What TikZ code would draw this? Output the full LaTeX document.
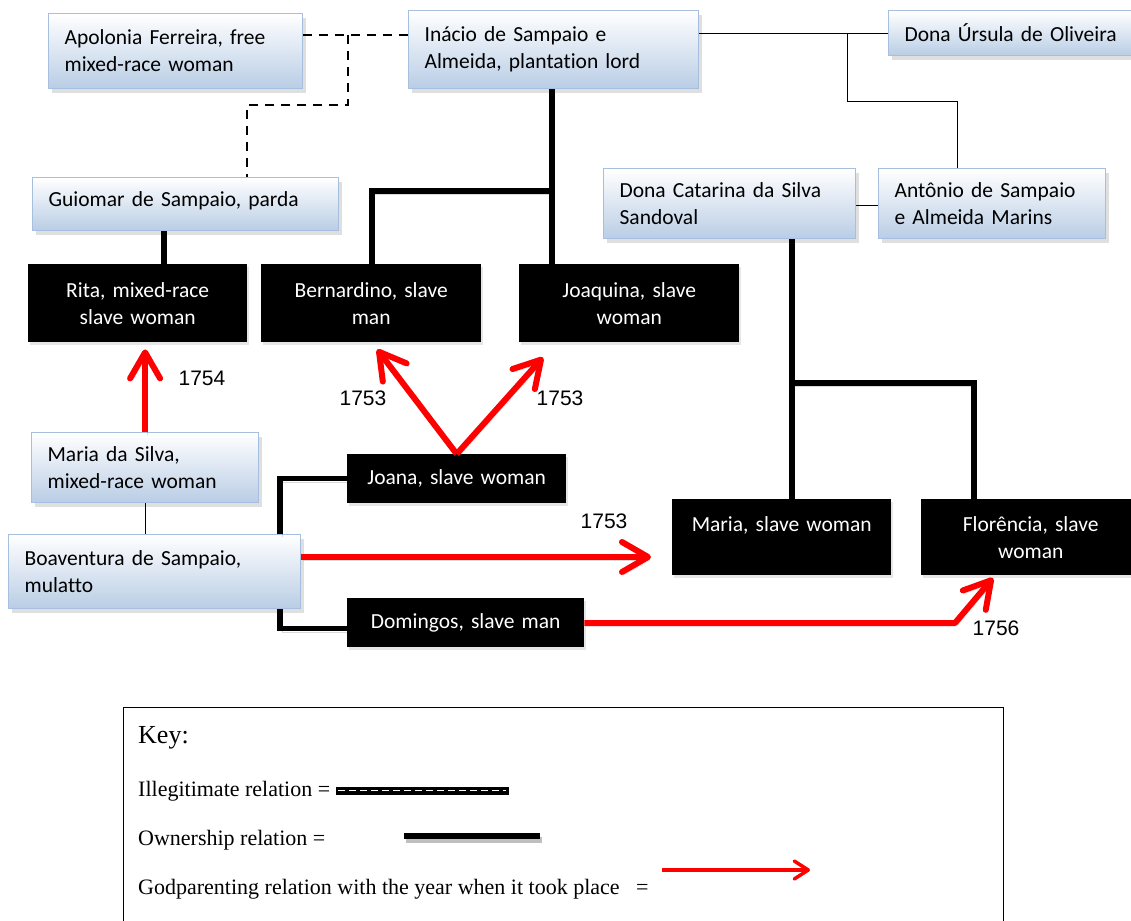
\documentclass[tikz,border=0pt]{standalone}
\usepackage{fontspec}
\newfontfamily\calfont{Carlito}[Ligatures={NoCommon}]
\newfontfamily\arialfont{Liberation Sans}
\newfontfamily\timesfont{Liberation Serif}
\usetikzlibrary{shadows,arrows.meta,calc}
\definecolor{bborder}{HTML}{A7BFDE}
\definecolor{bfill}{HTML}{B9CDE5}
\definecolor{redarrow}{HTML}{FF0000}
\tikzset{
 bluebox/.style={draw=bborder, line width=1.2pt, top color=white, bottom color=bfill,
   drop shadow={shadow xshift=3pt, shadow yshift=-4pt, opacity=0.25},
   anchor=north west, align=left, inner xsep=16pt, inner ysep=0pt,
   font=\calfont\fontsize{21.5}{27}\selectfont},
 blackbox/.style={fill=black, anchor=north west, align=center, text=white,
   inner xsep=0pt, inner ysep=0pt,
   drop shadow={shadow xshift=2pt, shadow yshift=-3pt, opacity=0.2},
   font=\calfont\fontsize{21.5}{27}\selectfont},
 illeg/.style={line width=2.7pt, dash pattern=on 9pt off 7pt},
 thinrel/.style={line width=1pt},
 own/.style={line width=5.5pt,
   preaction={draw=black, opacity=0.15, transform canvas={xshift=2pt,yshift=-3pt}}},
 god/.style={draw=redarrow, line width=6pt, line join=round,
   -{Straight Barb[length=26pt,width=30pt,line width=6pt,round]},
   preaction={draw=black, opacity=0.15, transform canvas={xshift=2pt,yshift=-3pt}}},
 year/.style={font=\arialfont\fontsize{21}{24}\selectfont},
 keytext/.style={font=\timesfont\fontsize{22}{26}\selectfont, anchor=base west, inner sep=0pt},
}
\begin{document}
\begin{tikzpicture}[x=1pt,y=-1pt]
\useasboundingbox (0,0) rectangle (1131,920);
% blue boxes
\node[bluebox, text width=222, minimum width=254, minimum height=75] (apol) at (48,13) {Apolonia Ferreira, free\\mixed-race woman};
\node[bluebox, text width=258, minimum width=290, minimum height=78] (inacio) at (408,10) {Inácio de Sampaio e\\Almeida, plantation lord};
\node[bluebox, text width=228, minimum width=260, minimum height=45] (ursula) at (888,10) {Dona Úrsula de Oliveira};
\node[bluebox, text width=274, minimum width=306, minimum height=53, text depth=10pt] (guiomar) at (32,177) {Guiomar de Sampaio, parda};
\node[bluebox, text width=220, minimum width=252, minimum height=70] (catarina) at (603,168) {Dona Catarina da Silva\\Sandoval};
\node[bluebox, text width=195, minimum width=227, minimum height=70] (antonio) at (878,168) {Antônio de Sampaio\\e Almeida Marins};
\node[bluebox, text width=195, minimum width=227, minimum height=70] (mds) at (31,432) {Maria da Silva,\\mixed-race woman};
\node[bluebox, text width=260, minimum width=292, minimum height=74] (boav) at (8,534) {Boaventura de Sampaio,\\mulatto};
% black boxes
\node[blackbox, text width=219, minimum height=78] (rita) at (28,264) {Rita, mixed-race\\slave woman};
\node[blackbox, text width=220, minimum height=78] (bern) at (261,264) {Bernardino, slave\\man};
\node[blackbox, text width=220, minimum height=78] (joaq) at (519,264) {Joaquina, slave\\woman};
\node[blackbox, text width=219, minimum height=49] (joana) at (347,454) {Joana, slave woman};
\node[blackbox, text width=237, minimum height=49] (domingos) at (347,598) {Domingos, slave man};
\node[blackbox, text width=219, minimum height=76] (mariaslave) at (672,499) {Maria, slave woman\\\mbox{}};
\node[blackbox, text width=219, minimum height=76] (flor) at (921,499) {Florência, slave\\woman};
% junction coordinates
\coordinate (dj) at (348,35);
\coordinate (dk) at (348,105);
\coordinate (dl) at (247,105);
\coordinate (tj) at (847,34);
\coordinate (tk) at (957,102);
\coordinate (tc) at (866,205);
\coordinate (oa) at (552,191);
\coordinate (ob) at (372,191);
\coordinate (oc) at (164,230);
\coordinate (od) at (792,383);
\coordinate (oe) at (974,383);
\coordinate (of) at (280,480);
\coordinate (ra) at (651,557);
\coordinate (rb) at (955,623);
\coordinate (rc) at (993,578);
% illegitimate
\draw[illeg] (apol.east |- dj) -- (inacio.west |- dj);
\draw[illeg] (dj) -- (dk) -- (dl) -- (dl |- guiomar.north);
% thin family lines
\draw[thinrel] (inacio.east |- tj) -- (ursula.west |- tj);
\draw[thinrel] (tj) |- (tk) -- (tk |- antonio.north);
\draw[thinrel] (catarina.east |- tc) -- (antonio.west |- tc);
\draw[thinrel] (mds.south) -- (mds.south |- boav.north);
% ownership
\draw[own] (oa |- inacio.south) -- (oa |- joaq.north);
\draw[own] (oa) -- (ob) -- (ob |- bern.north);
\draw[own] (oc |- guiomar.south) -- (oc |- rita.north);
\draw[own] (od |- catarina.south) -- (od |- mariaslave.north);
\draw[own] (od) -- (oe) -- (oe |- flor.north);
\draw[own] (of |- boav.north) |- (joana.west);
\draw[own] (of |- boav.south) |- ($(domingos.west)+(0,6)$);
% godparenting
\draw[god] (mds.north) -- ($(mds.north |- rita.south)+(0,7)$);
\draw[god] (joana.north) -- ($(bern.south)+(6,7)$);
\draw[god] (joana.north) -- ($(joaq.south west)+(24,15)$);
\draw[god] (boav.east |- ra) -- (ra);
\draw[god] (domingos.east |- rb) -- (rb) -- (rc);
% years
\node[year] (y1) at (202,378) {1754};
\node[year] (y2) at (363,398) {1753};
\node[year] (y3) at (560,398) {1753};
\node[year] (y4) at (604,521) {1753};
\node[year] (y5) at (996,628) {1756};
% key
\node[draw, line width=1pt, anchor=north west, minimum width=880, minimum height=230, inner sep=0pt] (key) at (123,707) {};
\node[keytext, font=\timesfont\fontsize{26}{30}\selectfont] (k0) at (138,743) {Key:};
\node[keytext] (k1) at (138,796) {Illegitimate relation =};
\node[keytext] (k2) at (138,845) {Ownership relation =};
\node[keytext] (k3) at (138,894) {Godparenting relation with the year when it took place~~~=};
\fill[black] (336,787) rectangle (508,794);
\draw[white, line width=1.5pt, dash pattern=on 7pt off 4pt] (338,790.5) -- (506,790.5);
\draw[line width=0.8pt] (336,787) rectangle (508,794);
\draw[black!25, line width=6pt] (406,840) -- (542,840);
\draw[line width=6pt] (404,836) -- (540,836);
\draw[draw=redarrow, line width=3.5pt, line join=round, -{Straight Barb[length=14pt,width=18pt,line width=3.5pt,round]}] (662,870) -- (810,870);
\end{tikzpicture}
\end{document}
